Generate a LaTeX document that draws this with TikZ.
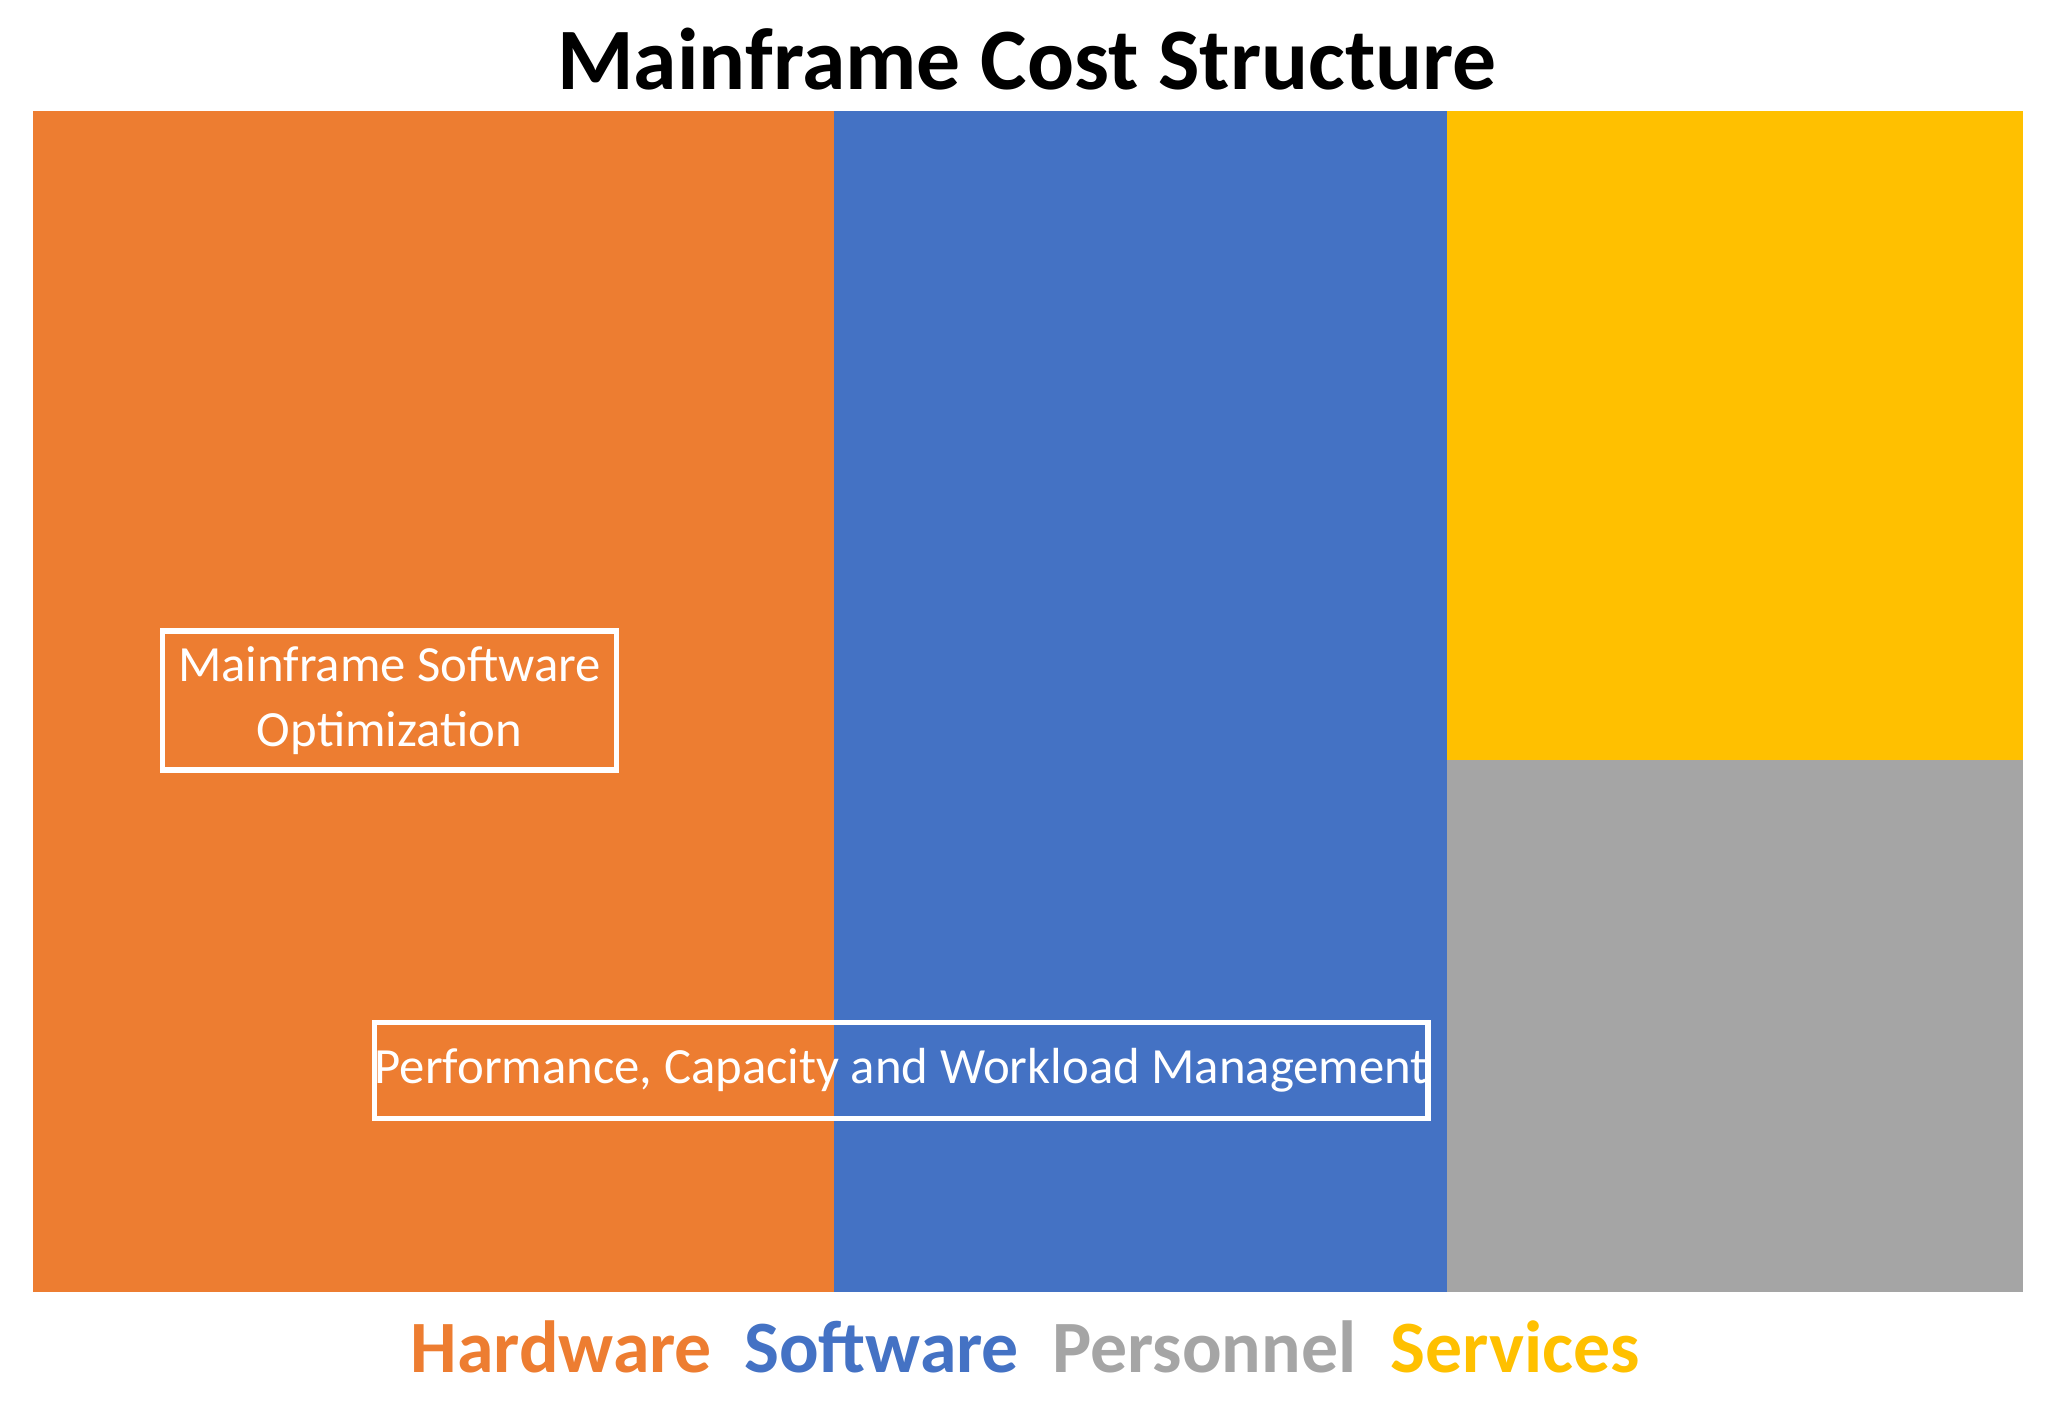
\documentclass[tikz,border=0pt]{standalone}
\usepackage{fontspec}
\setmainfont{Carlito}
\usetikzlibrary{positioning}
\definecolor{costOrange}{RGB}{237,125,49}
\definecolor{costBlue}{RGB}{68,114,196}
\definecolor{costGray}{RGB}{165,165,165}
\definecolor{costYellow}{RGB}{255,192,0}

\begin{document}
\begin{tikzpicture}[
        x=0.01cm, y=-0.01cm,
        note/.style={rectangle, draw=white, line width=1.2pt, text=white, align=center, font=\fontsize{11}{14}\selectfont, inner sep=0pt},
        legend/.style={font=\fontsize{16}{18}\selectfont\bfseries}
    ]
        \useasboundingbox (0,0) rectangle (1565,1068);
        \fill[costOrange] (25,85) rectangle (636,985);
        \fill[costBlue] (636,85) rectangle (1103,985);
        \fill[costYellow] (1103,85) rectangle (1542,579);
        \fill[costGray] (1103,579) rectangle (1542,985);
        
        \node[font=\fontsize{19}{22}\selectfont\bfseries] (title) at (783,45) {Mainframe Cost Structure};
        
        \node[note, minimum width=3.46cm, minimum height=1.06cm] (opt) at (297,534) {Mainframe Software\\Optimization};
        \node[note, minimum width=7.78cm, minimum height=0.73cm] (perf) at (687,816) {Performance, Capacity and Workload Management};
        
        \node[legend, text=costOrange] (hw) at (428,1027) {Hardware};
        \node[legend, text=costBlue] (sw) at (672,1027) {Software};
        \node[legend, text=costGray] (pers) at (918,1027) {Personnel};
        \node[legend, text=costYellow] (serv) at (1155,1027) {Services};
    \end{tikzpicture}
\end{document}
